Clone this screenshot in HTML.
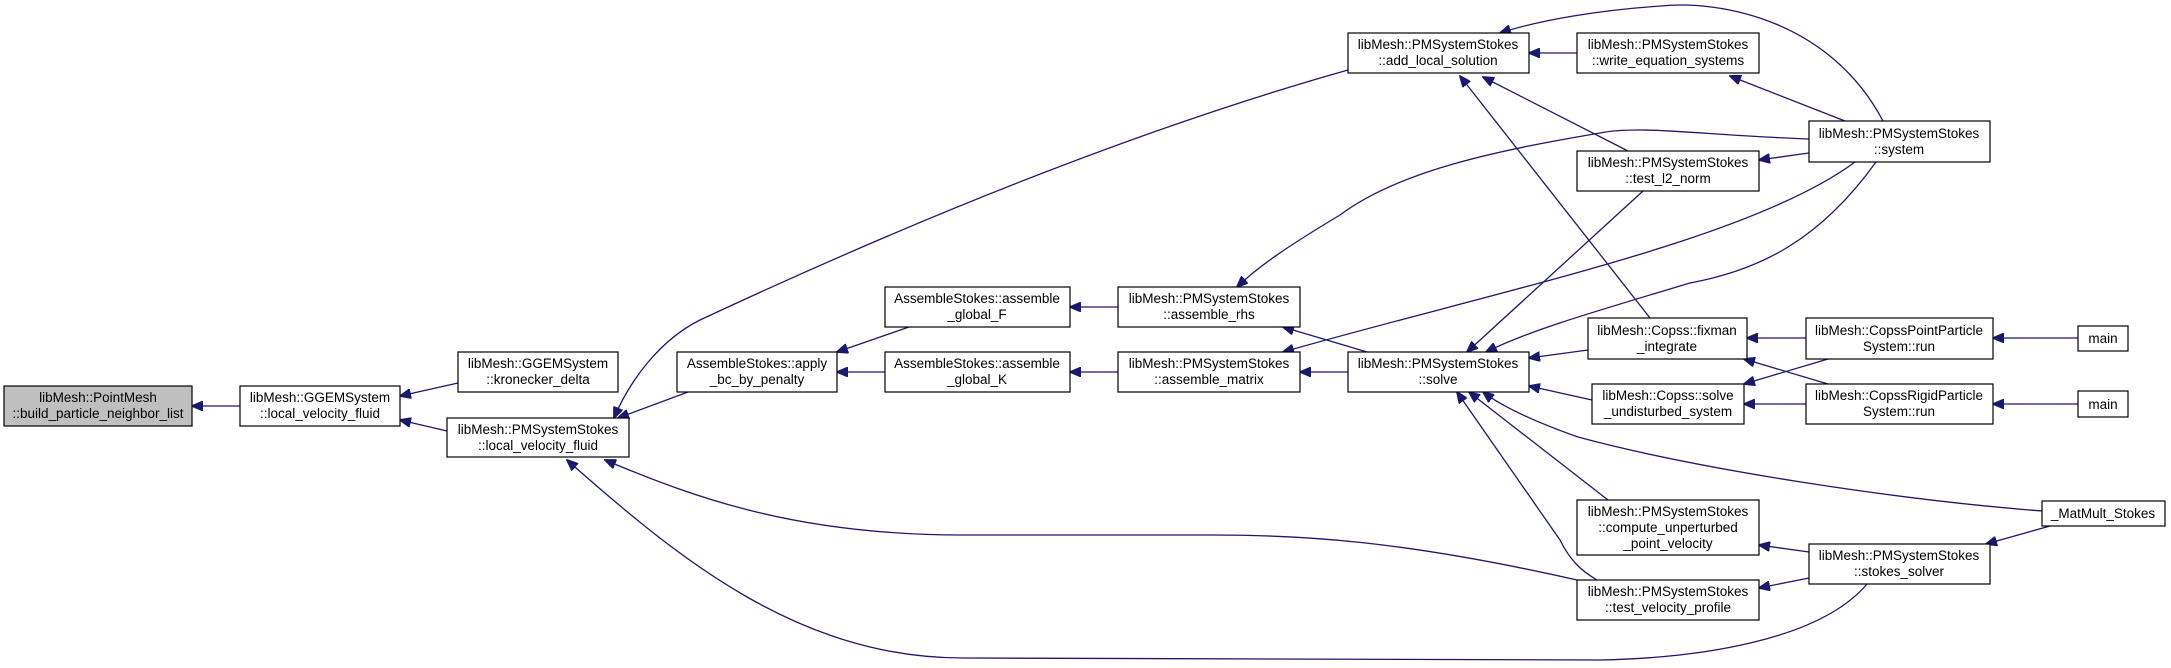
<!DOCTYPE html>
<html><head><meta charset="utf-8"><style>
html,body{margin:0;padding:0;background:#fff;}
svg{display:block;}
text{font-family:"Liberation Sans",sans-serif;font-size:13.5px;fill:#000;}
</style></head><body>
<svg width="2171" height="668" viewBox="0 0 2171 668" xmlns="http://www.w3.org/2000/svg">
<defs>
<marker id="a" markerWidth="12" markerHeight="10" refX="11" refY="5" orient="auto" markerUnits="userSpaceOnUse">
<path d="M0,0 L12,5 L0,10 Z" fill="#191970" stroke="#191970"/>
</marker>
</defs>
<g fill="none" stroke="#191970" stroke-width="1.3" marker-end="url(#a)">
<path d="M240,406 L192,406"/>
<path d="M458,383 L400,396"/>
<path d="M447,431 L400,420"/>
<path d="M1348,70 C1100,140 850,250 700,320 C660,340 630,380 614,418"/>
<path d="M688,392 L618,418"/>
<path d="M909,327 L837,352"/>
<path d="M885,372 L837,372"/>
<path d="M1118,307 L1070,307"/>
<path d="M1118,372 L1070,372"/>
<path d="M1348,372 L1300,372"/>
<path d="M1367,352 L1283,327"/>
<path d="M1809,139 C1700,135 1640,125 1600,133 C1500,150 1400,170 1340,215 C1290,245 1260,265 1237,287"/>
<path d="M1855,162 C1750,240 1500,290 1283,352"/>
<path d="M1577,53 L1529,53"/>
<path d="M1883,121 C1830,20 1720,0 1661,6 C1600,10 1540,20 1500,33"/>
<path d="M1845,121 L1730,76"/>
<path d="M1628,151 L1483,77"/>
<path d="M1650,318 L1460,76"/>
<path d="M1809,153 L1759,160"/>
<path d="M1876,162 C1820,240 1760,270 1690,283 C1600,310 1530,330 1486,352"/>
<path d="M1643,191 L1467,352"/>
<path d="M1588,350 L1529,358"/>
<path d="M1592,400 L1529,386"/>
<path d="M1806,338 L1747,338"/>
<path d="M1828,384 L1744,359"/>
<path d="M1828,359 L1744,384"/>
<path d="M1806,404 L1744,404"/>
<path d="M2078,338 L1993,338"/>
<path d="M2078,404 L1993,404"/>
<path d="M2042,511 C1900,500 1700,470 1578,437 C1530,420 1500,405 1483,392"/>
<path d="M1608,500 L1469,392"/>
<path d="M1597,580 C1580,570 1570,560 1560,540 L1457,392"/>
<path d="M1577,580 C1400,540 1300,535 1212,535 L963,535 C800,535 700,500 605,460"/>
<path d="M1867,584 C1820,640 1700,658 1600,660 L963,658 C800,658 680,560 567,460"/>
<path d="M1809,552 L1759,545"/>
<path d="M1809,578 L1759,588"/>
<path d="M2050,526 L1986,544"/>
</g>
<g stroke="#000" stroke-width="1.2" fill="#fff">
<rect x="4" y="386" width="188" height="40" fill="#bfbfbf"/>
<rect x="240" y="386" width="160" height="40"/>
<rect x="458" y="352" width="160" height="40"/>
<rect x="447" y="418" width="182" height="39"/>
<rect x="677" y="352" width="160" height="40"/>
<rect x="885" y="287" width="185" height="40"/>
<rect x="885" y="352" width="185" height="40"/>
<rect x="1118" y="287" width="182" height="40"/>
<rect x="1118" y="352" width="182" height="40"/>
<rect x="1348" y="352" width="181" height="40"/>
<rect x="1348" y="33" width="181" height="40"/>
<rect x="1577" y="33" width="182" height="40"/>
<rect x="1809" y="121" width="181" height="41"/>
<rect x="1577" y="151" width="182" height="40"/>
<rect x="1588" y="318" width="159" height="41"/>
<rect x="1592" y="384" width="152" height="40"/>
<rect x="1806" y="318" width="187" height="41"/>
<rect x="1806" y="384" width="187" height="40"/>
<rect x="2078" y="326" width="50" height="25"/>
<rect x="2078" y="391" width="50" height="26"/>
<rect x="1577" y="500" width="182" height="55"/>
<rect x="2042" y="501" width="123" height="25"/>
<rect x="1809" y="544" width="181" height="40"/>
<rect x="1577" y="580" width="182" height="40"/>
</g>
<g text-anchor="middle">
<text x="98" y="402">libMesh::PointMesh</text><text x="98" y="418">::build_particle_neighbor_list</text>
<text x="320" y="402">libMesh::GGEMSystem</text><text x="320" y="418">::local_velocity_fluid</text>
<text x="538" y="368">libMesh::GGEMSystem</text><text x="538" y="384">::kronecker_delta</text>
<text x="538" y="434">libMesh::PMSystemStokes</text><text x="538" y="450">::local_velocity_fluid</text>
<text x="757" y="368">AssembleStokes::apply</text><text x="757" y="384">_bc_by_penalty</text>
<text x="977" y="303">AssembleStokes::assemble</text><text x="977" y="319">_global_F</text>
<text x="977" y="368">AssembleStokes::assemble</text><text x="977" y="384">_global_K</text>
<text x="1209" y="303">libMesh::PMSystemStokes</text><text x="1209" y="319">::assemble_rhs</text>
<text x="1209" y="368">libMesh::PMSystemStokes</text><text x="1209" y="384">::assemble_matrix</text>
<text x="1438" y="368">libMesh::PMSystemStokes</text><text x="1438" y="384">::solve</text>
<text x="1438" y="49">libMesh::PMSystemStokes</text><text x="1438" y="65">::add_local_solution</text>
<text x="1668" y="49">libMesh::PMSystemStokes</text><text x="1668" y="65">::write_equation_systems</text>
<text x="1899" y="138">libMesh::PMSystemStokes</text><text x="1899" y="154">::system</text>
<text x="1668" y="167">libMesh::PMSystemStokes</text><text x="1668" y="183">::test_l2_norm</text>
<text x="1667" y="335">libMesh::Copss::fixman</text><text x="1667" y="351">_integrate</text>
<text x="1668" y="400">libMesh::Copss::solve</text><text x="1668" y="416">_undisturbed_system</text>
<text x="1899" y="335">libMesh::CopssPointParticle</text><text x="1899" y="351">System::run</text>
<text x="1899" y="400">libMesh::CopssRigidParticle</text><text x="1899" y="416">System::run</text>
<text x="2103" y="343">main</text>
<text x="2103" y="409">main</text>
<text x="1668" y="516">libMesh::PMSystemStokes</text><text x="1668" y="532">::compute_unperturbed</text><text x="1668" y="548">_point_velocity</text>
<text x="2103" y="518">_MatMult_Stokes</text>
<text x="1899" y="560">libMesh::PMSystemStokes</text><text x="1899" y="576">::stokes_solver</text>
<text x="1668" y="596">libMesh::PMSystemStokes</text><text x="1668" y="612">::test_velocity_profile</text>
</g>
</svg>
</body></html>
